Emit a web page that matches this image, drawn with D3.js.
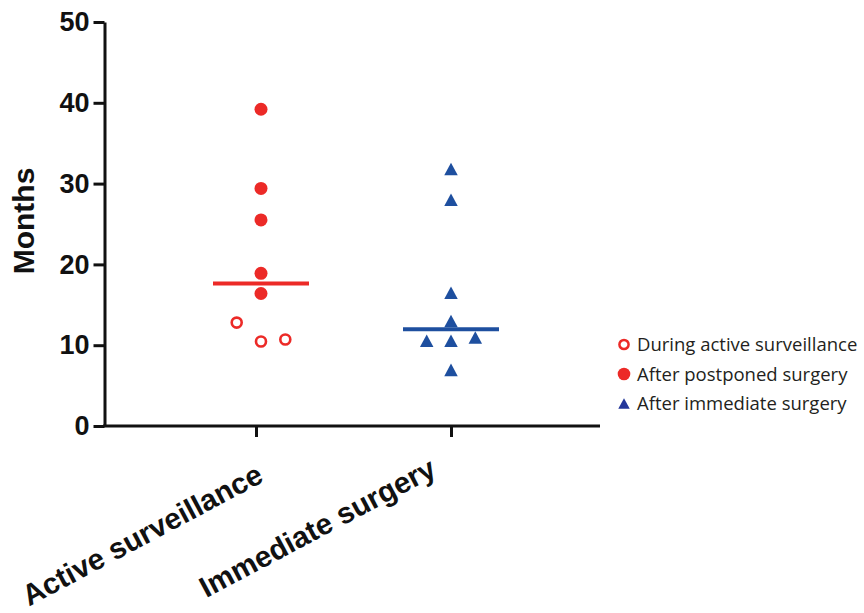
<!DOCTYPE html>
<html>
<head>
<meta charset="utf-8">
<script src="https://cdn.jsdelivr.net/npm/d3@7"></script>
<style>
  html, body { margin: 0; padding: 0; background: #fff; }
  svg { display: block; }
</style>
</head>
<body>
<svg id="chart" width="864" height="613"></svg>
<script>
// Groups on the x axis
const categories = ["Active surveillance", "Immediate surgery"];

// Active surveillance: measured during surveillance (open circles)
const duringSurveillance = [12.8, 10.45, 10.7];
const duringSurveillanceSlot = [-1, 0, 1];

// Active surveillance: measured after postponed surgery (filled circles)
const afterPostponed = [39.2, 29.4, 25.5, 18.9, 16.4];
const afterPostponedSlot = [0, 0, 0, 0, 0];

// Immediate surgery (filled triangles)
const afterImmediate = [31.8, 28.0, 16.5, 13.0, 10.55, 10.55, 10.95, 6.95];
const afterImmediateSlot = [0, 0, 0, 0, -1, 0, 1, 0];

const yTicks = [0, 10, 20, 30, 40, 50];
const legendLabels = ["During active surveillance", "After postponed surgery", "After immediate surgery"];

const RED = "#ec2a27";
const BLUE = "#1e4f9f";
const INK = "#111";

const svg = d3.select("#chart");

const plotLeft = 104.5, plotRight = 600, plotTop = 22, plotBottom = 426;
const y = d3.scaleLinear().domain([0, 50]).range([plotBottom, plotTop]);
const x = d3.scalePoint().domain(categories).range([256, 451]);

const slotWidth = 24.3;      // horizontal spacing of tied points
const columnShift = [5, 0];  // sideways nudge of each point column

// a slightly tall triangle, centred on its bounding box
const tallTriangle = (w, h) => ({
  draw(ctx) {
    ctx.moveTo(0, -h / 2);
    ctx.lineTo(w / 2, h / 2);
    ctx.lineTo(-w / 2, h / 2);
    ctx.closePath();
  }
});

// ---- y axis ----
const yAxis = svg.append("g")
  .attr("transform", `translate(${plotLeft},0)`)
  .call(d3.axisLeft(y).tickValues(yTicks).tickSize(11).tickSizeOuter(0).tickPadding(4));
yAxis.select(".domain").attr("stroke", INK).attr("stroke-width", 3);
yAxis.selectAll(".tick line").attr("stroke", INK).attr("stroke-width", 3);
yAxis.selectAll(".tick text")
  .attr("fill", INK)
  .style("font-family", "'Liberation Sans', Arial, sans-serif")
  .style("font-weight", "bold")
  .style("font-size", "27px");

svg.append("text")
  .attr("transform", `translate(34,221) rotate(-90)`)
  .attr("text-anchor", "middle")
  .attr("fill", INK)
  .style("font-family", "'Liberation Sans', Arial, sans-serif")
  .style("font-weight", "bold")
  .style("font-size", "30px")
  .text("Months");

// ---- x axis ----
const xAxis = svg.append("g")
  .attr("transform", `translate(0,${plotBottom})`)
  .call(d3.axisBottom(x).tickSize(11).tickSizeOuter(0).tickFormat(""));
xAxis.select(".domain").remove();
xAxis.selectAll(".tick line").attr("stroke", INK).attr("stroke-width", 3);
svg.append("line")
  .attr("x1", plotLeft - 1.5).attr("x2", plotRight)
  .attr("y1", plotBottom).attr("y2", plotBottom)
  .attr("stroke", INK).attr("stroke-width", 3);

// rotated category labels
const labelShift = [[9, 55], [-13, 49]];
svg.append("g").selectAll("text")
  .data(categories)
  .join("text")
  .attr("transform", (d, i) => `translate(${x(d) + labelShift[i][0]},${plotBottom + labelShift[i][1]}) rotate(-28)`)
  .attr("text-anchor", "end")
  .attr("fill", INK)
  .style("font-family", "'Liberation Sans', Arial, sans-serif")
  .style("font-weight", "bold")
  .style("font-size", "29.5px")
  .text(d => d);

// ---- points ----
const px = (cat, slot) => x(cat) + columnShift[categories.indexOf(cat)] + slot * slotWidth;

// medians over every value in each group
const groupValues = [
  duringSurveillance.concat(afterPostponed),
  afterImmediate
];
const medianColors = [RED, BLUE];
svg.append("g").selectAll("line")
  .data(categories)
  .join("line")
  .attr("x1", d => px(d, 0) - 48)
  .attr("x2", d => px(d, 0) + 48)
  .attr("y1", (d, i) => y(d3.median(groupValues[i])))
  .attr("y2", (d, i) => y(d3.median(groupValues[i])))
  .attr("stroke", (d, i) => medianColors[i])
  .attr("stroke-width", 4);

svg.append("g").selectAll("circle")
  .data(duringSurveillance)
  .join("circle")
  .attr("cx", (d, i) => px(categories[0], duringSurveillanceSlot[i]))
  .attr("cy", d => y(d))
  .attr("r", 5)
  .attr("fill", "#fff")
  .attr("stroke", RED)
  .attr("stroke-width", 2.6);

svg.append("g").selectAll("circle")
  .data(afterPostponed)
  .join("circle")
  .attr("cx", (d, i) => px(categories[0], afterPostponedSlot[i]))
  .attr("cy", d => y(d))
  .attr("r", 6.5)
  .attr("fill", RED);

svg.append("g").selectAll("path")
  .data(afterImmediate)
  .join("path")
  .attr("transform", (d, i) => `translate(${px(categories[1], afterImmediateSlot[i])},${y(d)})`)
  .attr("d", d3.symbol().type(tallTriangle(13.5, 12.6)))
  .attr("fill", BLUE);

// ---- legend ----
const legend = svg.append("g").attr("transform", "translate(624,344.5)");
const rows = legend.selectAll("g")
  .data(legendLabels)
  .join("g")
  .attr("transform", (d, i) => `translate(0,${i * 29.5})`);

rows.filter((d, i) => i === 0).append("circle")
  .attr("r", 4.6).attr("fill", "#fff").attr("stroke", RED).attr("stroke-width", 2.5);
rows.filter((d, i) => i === 1).append("circle")
  .attr("r", 6.3).attr("fill", RED);
rows.filter((d, i) => i === 2).append("path")
  .attr("d", d3.symbol().type(tallTriangle(11.5, 10.5))).attr("fill", "#24379a");

rows.append("text")
  .attr("x", 13)
  .attr("dy", "0.36em")
  .attr("fill", "#231f20")
  .style("font-family", "'Open Sans', sans-serif")
  .style("font-size", "18.5px")
  .text(d => d);
</script>
</body>
</html>
